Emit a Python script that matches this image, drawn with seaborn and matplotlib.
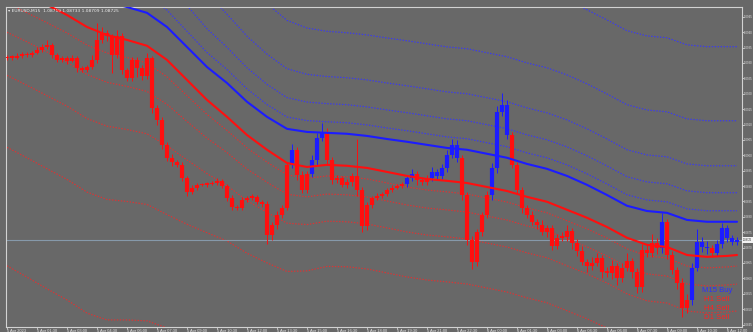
import numpy as np
import pandas as pd
import matplotlib
matplotlib.use("Agg")
import matplotlib.pyplot as plt
import matplotlib.transforms as mtransforms
import seaborn as sns

# ---------------------------------------------------------------- data
symbol = "EURUSD,M15"
start_time = "2023-04-05 00:00"
first_open = 1.09315

closes = [
    1.09320, 1.09317, 1.09323, 1.09330, 1.09326, 1.09333, 1.09343, 1.09352, 1.09359, 1.09326,
    1.09310, 1.09317, 1.09307, 1.09317, 1.09284, 1.09278, 1.09287, 1.09310, 1.09375, 1.09398,
    1.09388, 1.09326, 1.09388, 1.09278, 1.09252, 1.09310, 1.09284, 1.09258, 1.09317, 1.09154,
    1.09115, 1.09034, 1.08992, 1.08979, 1.08969, 1.08927, 1.08881, 1.08894, 1.08904, 1.08904,
    1.08907, 1.08910, 1.08917, 1.08901, 1.08862, 1.08832, 1.08829, 1.08855, 1.08862, 1.08865,
    1.08849, 1.08842, 1.08741, 1.08774, 1.08806, 1.08829, 1.08969, 1.09018, 1.08936, 1.08888,
    1.08940, 1.08985, 1.09057, 1.09076, 1.08985, 1.08920, 1.08927, 1.08904, 1.08914, 1.08933,
    1.08888, 1.08771, 1.08839, 1.08862, 1.08868, 1.08875, 1.08888, 1.08894, 1.08901, 1.08907,
    1.08927, 1.08940, 1.08920, 1.08914, 1.08927, 1.08946, 1.08933, 1.08959, 1.09001, 1.09034,
    1.08992, 1.08871, 1.08725, 1.08654, 1.08751, 1.08806, 1.08871, 1.08959, 1.09141, 1.09164,
    1.09066, 1.08969, 1.08888, 1.08829, 1.08806, 1.08784, 1.08774, 1.08751, 1.08764, 1.08706,
    1.08732, 1.08735, 1.08754, 1.08715, 1.08689, 1.08654, 1.08641, 1.08650, 1.08667, 1.08621,
    1.08618, 1.08641, 1.08602, 1.08634, 1.08657, 1.08621, 1.08572, 1.08693, 1.08683, 1.08715,
    1.08699, 1.08784, 1.08676, 1.08628, 1.08585, 1.08504, 1.08530, 1.08634, 1.08719, 1.08702,
    1.08699, 1.08683, 1.08712, 1.08764, 1.08732, 1.08719, 1.08725,
]

# wick lengths beyond the candle body, in pips
wick_up = [
    0.5, 0.5, 0.8, 0.5, 0.6, 0.5, 0.8, 1.0, 1.5, 0.5,
    0.8, 0.5, 0.6, 1.0, 0.5, 0.6, 0.8, 1.5, 5.5, 2.0,
    1.0, 0.5, 2.0, 1.0, 0.6, 1.0, 0.8, 1.0, 1.5, 0.5,
    1.0, 0.8, 1.0, 1.2, 0.6, 0.8, 0.5, 0.8, 0.6, 0.5,
    0.5, 0.6, 0.8, 0.5, 0.6, 0.8, 0.5, 1.0, 0.6, 0.8,
    0.5, 0.6, 0.8, 1.0, 1.2, 0.8, 1.0, 2.0, 1.0, 1.2,
    1.0, 1.5, 1.5, 3.0, 1.2, 0.8, 1.0, 0.6, 0.8, 1.0,
    12.0, 1.0, 0.8, 0.6, 0.8, 0.5, 0.6, 0.8, 0.5, 0.6,
    1.0, 1.5, 1.0, 0.8, 1.0, 1.5, 1.0, 1.2, 1.5, 2.0,
    1.5, 1.0, 1.0, 1.2, 1.0, 1.0, 1.2, 1.5, 2.0, 4.0,
    1.5, 1.0, 0.8, 1.0, 0.8, 1.2, 1.0, 1.5, 1.0, 0.8,
    1.2, 1.5, 2.0, 1.0, 1.2, 1.5, 1.0, 2.0, 1.5, 1.0,
    1.5, 2.0, 1.0, 1.5, 2.5, 1.0, 1.2, 2.0, 1.5, 3.0,
    1.5, 3.0, 1.0, 1.2, 1.0, 1.5, 2.0, 1.5, 4.0, 1.5,
    2.0, 1.0, 1.2, 1.5, 1.0, 1.0, 0.8,
]
wick_dn = [
    0.6, 0.8, 0.5, 0.6, 0.5, 0.8, 0.5, 0.6, 0.5, 1.0,
    0.8, 0.6, 1.0, 0.5, 1.2, 0.8, 0.6, 0.5, 1.0, 1.0,
    1.5, 6.0, 1.0, 1.5, 1.2, 1.0, 3.0, 1.2, 1.0, 1.5,
    1.5, 1.2, 1.0, 1.5, 0.8, 1.0, 1.2, 0.8, 0.6, 0.5,
    0.6, 0.5, 0.8, 0.6, 1.0, 1.0, 0.8, 0.6, 0.8, 0.6,
    0.8, 1.0, 3.0, 1.5, 1.2, 1.0, 0.8, 1.0, 1.5, 1.2,
    1.0, 1.0, 1.5, 1.0, 1.5, 1.2, 1.0, 0.8, 1.0, 1.5,
    2.0, 2.0, 1.5, 1.0, 0.8, 0.6, 0.8, 0.6, 0.5, 0.6,
    1.0, 1.2, 1.5, 1.0, 1.2, 1.0, 1.0, 1.0, 1.2, 1.0,
    1.5, 1.5, 1.5, 2.5, 1.5, 1.2, 1.0, 1.5, 1.5, 1.2,
    1.2, 1.0, 1.2, 1.5, 1.0, 1.0, 1.2, 1.0, 1.5, 1.5,
    1.0, 1.2, 1.5, 2.0, 1.5, 1.2, 2.0, 1.5, 1.0, 2.0,
    1.5, 2.0, 2.5, 1.5, 1.0, 2.0, 2.0, 1.5, 1.2, 1.5,
    2.0, 1.5, 1.2, 1.5, 2.0, 3.0, 1.5, 1.5, 1.0, 1.5,
    2.0, 1.5, 1.0, 1.2, 1.5, 1.0, 1.0,
]

# bars painted with the M15 buy colour (inclusive index ranges)
buy_ranges = [(57, 57), (61, 63), (80, 81), (85, 90), (97, 100),
              (131, 131), (137, 140), (142, 146)]

# trend lines, sampled every 4 bars
line_bars = list(range(0, 145, 4)) + [146]
ma_sell = [
    1.09551, 1.09521, 1.09489, 1.09456, 1.09417, 1.09391, 1.09375, 1.09356, 1.09310, 1.09245,
    1.09180, 1.09125, 1.09066, 1.09018, 1.08975, 1.08962, 1.08969, 1.08966, 1.08959, 1.08946,
    1.08933, 1.08923, 1.08917, 1.08910, 1.08897, 1.08884, 1.08865, 1.08849, 1.08823, 1.08797,
    1.08767, 1.08732, 1.08709, 1.08702, 1.08676, 1.08670, 1.08673, 1.08676,
]
ma_buy = [
    1.09658, 1.09629, 1.09596, 1.09564, 1.09525, 1.09499, 1.09482, 1.09463, 1.09417, 1.09352,
    1.09287, 1.09235, 1.09174, 1.09125, 1.09086, 1.09076, 1.09073, 1.09070, 1.09063, 1.09053,
    1.09044, 1.09034, 1.09024, 1.09018, 1.09005, 1.08992, 1.08972, 1.08956, 1.08933, 1.08904,
    1.08871, 1.08836, 1.08819, 1.08813, 1.08790, 1.08784, 1.08784, 1.08784,
]
band_width = [
    0.00910, 0.00917, 0.00923, 0.00926, 0.00930, 0.00926, 0.00910, 0.00894, 0.00871, 0.00813,
    0.00748, 0.00699, 0.00666, 0.00637, 0.00611, 0.00585, 0.00572, 0.00569, 0.00569, 0.00569,
    0.00569, 0.00569, 0.00569, 0.00569, 0.00569, 0.00569, 0.00569, 0.00569, 0.00569, 0.00569,
    0.00569, 0.00569, 0.00569, 0.00569, 0.00569, 0.00569, 0.00569, 0.00569,
]
band_levels = [0.063, 0.166, 0.32, 0.577, 1.0]

signal_labels = ["M15 Buy", "H1 Sell", "H4 Sell", "D1 Sell"]
signal_is_buy = [True, False, False, False]

price_ticks = [1.0945 - 0.0005 * k for k in range(21)]

# ---------------------------------------------------------------- style
BG = "#686868"
RED = "#ff0f0f"
BLUE = "#1c1cff"
RED_DOT = "#dc3434"
BLUE_DOT = "#3a3af0"
AXIS = "#d2d2d2"
PIP = 0.0001
W, H = 753, 332
DOTS = (0, (1.2, 1.3))

sns.set_theme(style="dark", rc={
    "axes.facecolor": BG, "figure.facecolor": BG,
    "axes.edgecolor": AXIS, "axes.linewidth": 0.8,
    "xtick.color": AXIS, "ytick.color": AXIS,
})
plt.rcParams["font.family"] = ["Liberation Sans", "DejaVu Sans"]

fig = plt.figure(figsize=(W / 100, H / 100), dpi=100, facecolor=BG)
ax = fig.add_axes([6 / W, 5 / H, 736 / W, 320 / H])
ax.set_facecolor(BG)

# ---------------------------------------------------------------- candles
close = np.array(closes)
bars = np.arange(len(close))
opens = np.concatenate([[first_open], close[:-1]])
body_hi = np.maximum(opens, close)
body_lo = np.minimum(opens, close)
thin = (body_hi - body_lo) < 0.00003
body_hi = np.where(thin, body_hi + 0.000015, body_hi)
body_lo = np.where(thin, body_lo - 0.000015, body_lo)
highs = np.maximum(opens, close) + np.array(wick_up) * PIP
lows = np.minimum(opens, close) - np.array(wick_dn) * PIP

is_buy = np.zeros(len(bars), dtype=bool)
for a, b in buy_ranges:
    is_buy[a:b + 1] = True
bar_colors = np.where(is_buy, BLUE, RED)

# ---------------------------------------------------------------- bands and averages
lb = np.array(line_bars)
sell_line = np.array(ma_sell)
buy_line = np.array(ma_buy)
width = np.array(band_width)

for k in band_levels:
    sns.lineplot(x=lb, y=sell_line - k * width, ax=ax, color=RED_DOT,
                 linewidth=0.85, linestyle=DOTS, zorder=2)
    sns.lineplot(x=lb, y=buy_line + k * width, ax=ax, color=BLUE_DOT,
                 linewidth=0.85, linestyle=DOTS, zorder=2)

# last price line
ax.axhline(close[-1], color="#8699aa", linewidth=0.8, zorder=2.5)

ax.vlines(bars, lows, highs, colors=bar_colors, linewidth=0.7, zorder=3)
ax.vlines(bars, body_lo, body_hi, colors=bar_colors, linewidth=3.0, zorder=3)

sns.lineplot(x=lb, y=sell_line, ax=ax, color=RED, linewidth=1.5, zorder=4)
sns.lineplot(x=lb, y=buy_line, ax=ax, color=BLUE, linewidth=1.5, zorder=4)

# ---------------------------------------------------------------- axes
ax.set_xlim(-0.2, 147)
ax.set_ylim(1.08442, 1.09482)
ax.set_xlabel("")
ax.set_ylabel("")
ax.grid(False)
for side in ax.spines.values():
    side.set_visible(True)
    side.set_color(AXIS)
    side.set_linewidth(0.8)

# narrow price scale: labels squeezed into the strip right of the chart
ax.yaxis.tick_right()
ax.set_yticks(price_ticks)
ax.set_yticklabels([f"{p:.4f}" for p in price_ticks])
ax.tick_params(axis="y", which="major", right=True, left=False, length=1.2,
               width=0.6, pad=0.4, labelsize=2.0, labelcolor="#e6e6e6",
               direction="out")

times = pd.date_range(start_time, periods=len(close), freq="15min")
tick_bars = list(range(0, len(close), 6))
tick_text = []
for i in tick_bars:
    t = times[i]
    if i == 0:
        tick_text.append(f"{t.day} {t:%b} {t.year}")
    else:
        tick_text.append(f"{t.day} {t:%b} {t:%H:%M}")
ax.set_xticks(tick_bars)
ax.set_xticklabels(tick_text, ha="left")
ax.tick_params(axis="x", which="major", bottom=True, length=1.2, width=0.6,
               pad=0.2, labelsize=2.9, labelcolor="#e6e6e6", direction="out")

# current price tag on the price scale
tag_tr = mtransforms.blended_transform_factory(ax.transAxes, ax.transData)
ax.text(1.0015, close[-1], f"{close[-1]:.5f}", transform=tag_tr, fontsize=1.8,
        color="#202020", va="center", ha="left", clip_on=False, zorder=6,
        bbox=dict(boxstyle="square,pad=0.3", fc="#f2f2f2", ec="none"))

# chart header
o, h, l, c = opens[-1], highs[-1], lows[-1], close[-1]
fig.text(8 / W, 1 - 11 / H, f"\u25be {symbol}  {o:.5f} {h:.5f} {l:.5f} {c:.5f}",
         fontsize=3.2, color="#eeeeee", va="center", ha="left",
         family=["DejaVu Sans"])

# signal panel
for j, (lab, buy) in enumerate(zip(signal_labels, signal_is_buy)):
    fig.text(717 / W, 1 - (290 + 9.3 * j) / H, lab, fontsize=5.6,
             color="#2e2eff" if buy else "#ff2222", ha="center", va="center")

fig.savefig("out.png", dpi=100, facecolor=BG)
